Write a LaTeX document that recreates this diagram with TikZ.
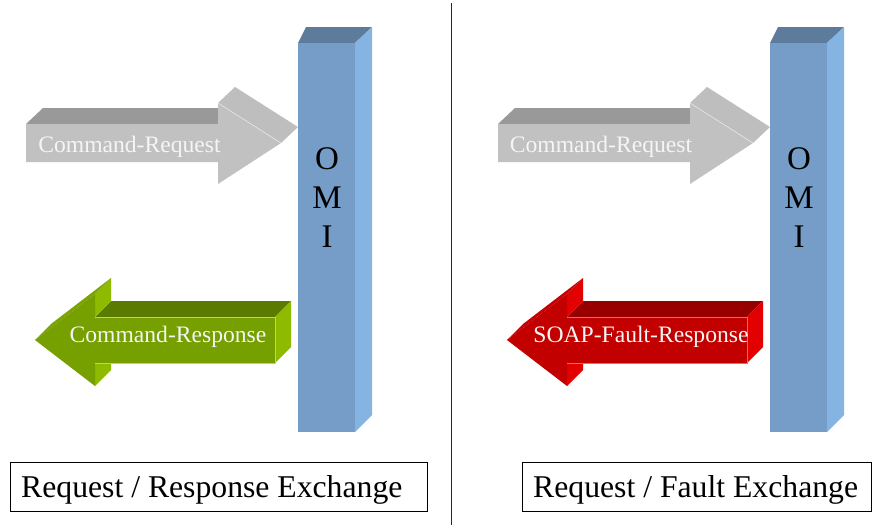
\documentclass[tikz,border=0pt]{standalone}
\usepackage{fontspec}
\setmainfont{Liberation Serif}
\definecolor{grayfront}{RGB}{193,193,193}
\definecolor{graytop}{RGB}{153,153,153}
\definecolor{grayhead}{RGB}{190,190,190}
\definecolor{grfront}{RGB}{118,160,0}
\definecolor{grtop}{RGB}{90,122,0}
\definecolor{grside}{RGB}{142,186,0}
\definecolor{rdfront}{RGB}{194,0,0}
\definecolor{rdtop}{RGB}{152,0,0}
\definecolor{rdside}{RGB}{226,0,0}
\definecolor{omifront}{RGB}{117,157,199}
\definecolor{omitop}{RGB}{93,124,156}
\definecolor{omiside}{RGB}{134,180,226}
\definecolor{arrowtxt}{RGB}{245,245,245}
\tikzset{
  arrowtext/.style={anchor=base, inner sep=0pt, text=arrowtxt, font=\fontsize{23.6}{28}\selectfont},
  omitext/.style={anchor=base, inner sep=0pt, text=black, font=\fontsize{33}{40}\selectfont},
  labeltext/.style={anchor=base west, inner sep=0pt, text=black, font=\fontsize{31.7}{38}\selectfont},
  labelbox/.style={draw=black, line width=0.9pt},
  divider/.style={draw=black!85, line width=1pt}
}
\begin{document}
\begin{tikzpicture}[x=1pt,y=-1pt]
\useasboundingbox (0,0) rectangle (872,525);
\fill[white] (0,0) rectangle (872,525);

% ---------- request arrows (both panels) ----------
\foreach \dx in {0,472}{
\begin{scope}[xshift=\dx]
\fill[graytop] (26,124) -- (218,124) -- (235,108) -- (43,108) -- cycle;
\fill[grayhead] (218,103) -- (281,143) -- (298,127) -- (235,87) -- cycle;
\fill[grayfront] (26,124) -- (218,124) -- (218,103) -- (281,143) -- (218,184) -- (218,162) -- (26,162) -- cycle;
\draw[white!70!grayfront, line width=0.5pt] (218,103) -- (281,143);
\end{scope}
}
\node[arrowtext] (req1) at (129.5,152) {Command-Request};
\node[arrowtext] (req2) at (601,152) {Command-Request};

% ---------- response arrow (left) ----------
\fill[grtop] (95,317) -- (275,317) -- (291,301) -- (111,301) -- cycle;
\fill[grside] (275,317) -- (291,301) -- (291,347) -- (275,363) -- cycle;
\fill[grside] (95,294) -- (111,278) -- (111,301) -- (95,317) -- cycle;
\fill[grside] (95,363) -- (111,347) -- (111,370) -- (95,386) -- cycle;
\fill[grfront!85!grside] (35,340) -- (95,294) -- (111,278) -- (51,324) -- cycle;
\fill[grfront] (35,340) -- (95,294) -- (95,317) -- (275,317) -- (275,363) -- (95,363) -- (95,386) -- cycle;
\draw[grside!60!white, line width=0.4pt] (95,317) -- (275,317) -- (275,363) -- (95,363);
\node[arrowtext] (resp) at (168,342) {Command-Response};

% ---------- fault arrow (right) ----------
\begin{scope}[xshift=472]
\fill[rdtop] (95,317) -- (275,317) -- (291,301) -- (111,301) -- cycle;
\fill[rdside] (275,317) -- (291,301) -- (291,347) -- (275,363) -- cycle;
\fill[rdside] (95,294) -- (111,278) -- (111,301) -- (95,317) -- cycle;
\fill[rdside] (95,363) -- (111,347) -- (111,370) -- (95,386) -- cycle;
\fill[rdfront!85!rdside] (35,340) -- (95,294) -- (111,278) -- (51,324) -- cycle;
\fill[rdfront] (35,340) -- (95,294) -- (95,317) -- (275,317) -- (275,363) -- (95,363) -- (95,386) -- cycle;
\draw[rdside!60!white, line width=0.4pt] (95,317) -- (275,317) -- (275,363) -- (95,363);
\end{scope}
\node[arrowtext] (fault) at (641,342) {SOAP-Fault-Response};

% ---------- OMI bars ----------
\foreach \dx in {0,472}{
\begin{scope}[xshift=\dx]
\fill[omitop] (298,43) -- (306,27) -- (372,27) -- (355,43) -- cycle;
\fill[omiside] (355,43) -- (372,27) -- (372,415) -- (355,432) -- cycle;
\fill[omifront] (298,43) rectangle (355,432);
\end{scope}
}
\node[omitext] (o1) at (327,169.5) {O};
\node[omitext] (m1) at (327,208) {M};
\node[omitext] (i1) at (327,247.5) {I};
\node[omitext] (o2) at (799,169.5) {O};
\node[omitext] (m2) at (799,208) {M};
\node[omitext] (i2) at (799,247.5) {I};

% ---------- divider ----------
\coordinate (dtop) at (451,3);
\coordinate (dbot) at (451,525);
\draw[divider] (dtop) -- (dbot);

% ---------- labels ----------
\draw[labelbox] (10,462) rectangle (427,511);
\node[labeltext] (lbl1) at (21,497) {Request / Response Exchange};
\draw[labelbox] (522,462) rectangle (871,511);
\node[labeltext] (lbl2) at (533,497) {Request / Fault Exchange};
\end{tikzpicture}
\end{document}
